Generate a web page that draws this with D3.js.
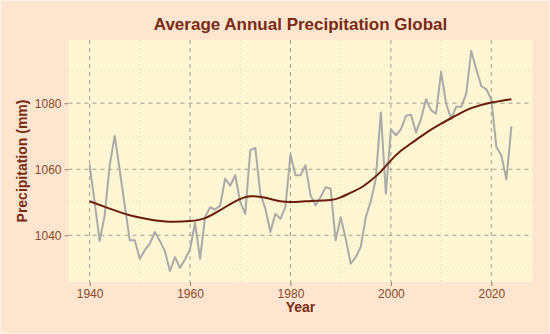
<!DOCTYPE html>
<html>
<head>
<meta charset="utf-8">
<script src="https://cdn.jsdelivr.net/npm/d3@7"></script>
<style>
  html, body { margin: 0; padding: 0; background: #fde5cf; }
  svg { display: block; font-family: "Liberation Sans", Arial, sans-serif; }
</style>
</head>
<body>
<svg id="chart" width="550" height="334"></svg>
<script>
// yearly precipitation (mm), 1940-2024
const years = d3.range(1940, 2025);
const precip = [
  1061.4, 1050.1, 1038.3, 1046.0, 1061.2, 1070.1, 1059.7, 1049.1, 1038.5, 1038.5,
  1032.9, 1035.5, 1037.5, 1041.0, 1038.3, 1035.2, 1029.2, 1033.4, 1030.2, 1032.7,
  1035.7, 1043.8, 1032.9, 1045.5, 1048.5, 1047.8, 1049.0, 1057.2, 1055.0, 1058.2,
  1050.1, 1046.5, 1065.8, 1066.5, 1052.6, 1048.1, 1041.0, 1046.5, 1045.0, 1048.6,
  1064.5, 1058.2, 1058.2, 1061.2, 1052.1, 1049.1, 1051.6, 1054.6, 1054.1, 1038.5,
  1045.5, 1039.0, 1031.4, 1033.4, 1036.5, 1045.5, 1050.3, 1057.1, 1077.2, 1052.6,
  1072.1, 1070.3, 1072.1, 1076.2, 1076.5, 1071.1, 1075.3, 1081.2, 1077.9, 1076.8,
  1089.5, 1079.9, 1075.3, 1078.9, 1078.9, 1082.9, 1095.8, 1090.3, 1085.2, 1084.2,
  1081.2, 1066.8, 1064.2, 1056.9, 1073.0
];

// smoothed trend
const smoothYears = [1940, 1944, 1948, 1952, 1956, 1960, 1963, 1966, 1969, 1972, 1975, 1978, 1981, 1985, 1988, 1990, 1992, 1994, 1996, 1998, 2000, 2002, 2004, 2007, 2010, 2013, 2016, 2020, 2024];
const smoothVals  = [1050.3, 1048.1, 1046.1, 1044.8, 1044.1, 1044.3, 1045.2, 1047.6, 1050.3, 1051.8, 1051.4, 1050.3, 1050.1, 1050.5, 1050.7, 1051.5, 1052.9, 1054.4, 1056.6, 1059.3, 1062.7, 1065.6, 1067.8, 1071.0, 1073.8, 1076.3, 1078.5, 1080.2, 1081.2];

const xTicks = [1940, 1960, 1980, 2000, 2020];
const yTicks = [1040, 1060, 1080];
const xMinor = [1950, 1970, 1990, 2010];
const yMinor = [1030, 1050, 1070, 1090];

const W = 550, H = 334;
const m = {top: 40, right: 17.5, bottom: 52, left: 68.5};
const iw = W - m.left - m.right, ih = H - m.top - m.bottom;

const svg = d3.select("#chart");
svg.append("rect").attr("width", W).attr("height", H).attr("fill", "#fde5cf")
  .attr("stroke", "#fff4ea").attr("stroke-width", 2);

// ggplot-ish 5% expansion
const xr = 2024 - 1940, ymin = d3.min(precip), ymax = d3.max(precip), yr = ymax - ymin;
const x = d3.scaleLinear().domain([1940 - xr * 0.05, 2024 + xr * 0.05]).range([0, iw]);
const y = d3.scaleLinear().domain([ymin - yr * 0.05, ymax + yr * 0.05]).range([ih, 0]);

const g = svg.append("g").attr("transform", `translate(${m.left},${m.top})`);

g.append("rect").attr("width", iw).attr("height", ih).attr("fill", "#fef5d2");

// minor grid
g.append("g").selectAll("line").data(xMinor).join("line")
  .attr("x1", d => x(d)).attr("x2", d => x(d)).attr("y1", 0).attr("y2", ih)
  .attr("stroke", "#e3d9bd").attr("stroke-width", 0.8).attr("stroke-dasharray", "1,3");
g.append("g").selectAll("line").data(yMinor).join("line")
  .attr("y1", d => y(d)).attr("y2", d => y(d)).attr("x1", 0).attr("x2", iw)
  .attr("stroke", "#e3d9bd").attr("stroke-width", 0.8).attr("stroke-dasharray", "1,3");

// major grid
g.append("g").selectAll("line").data(xTicks).join("line")
  .attr("x1", d => x(d)).attr("x2", d => x(d)).attr("y1", 0).attr("y2", ih)
  .attr("stroke", "#9c9688").attr("stroke-width", 0.9).attr("stroke-dasharray", "4,4");
g.append("g").selectAll("line").data(yTicks).join("line")
  .attr("y1", d => y(d)).attr("y2", d => y(d)).attr("x1", 0).attr("x2", iw)
  .attr("stroke", "#9c9688").attr("stroke-width", 0.9).attr("stroke-dasharray", "4,4");

// raw series
const line = d3.line().x((d, i) => x(years[i])).y(d => y(d));
g.append("path").datum(precip)
  .attr("d", line).attr("fill", "none")
  .attr("stroke", "#aaaaaa").attr("stroke-width", 2).attr("stroke-linejoin", "round");

// smooth
const sline = d3.line().x((d, i) => x(smoothYears[i])).y(d => y(d)).curve(d3.curveNatural);
g.append("path").datum(smoothVals)
  .attr("d", sline).attr("fill", "none")
  .attr("stroke", "#6b1e0c").attr("stroke-width", 2);

// axes
const tickCol = "#8b4a2b";
const xAxis = g.append("g").attr("transform", `translate(0,${ih})`)
  .call(d3.axisBottom(x).tickValues(xTicks).tickFormat(d3.format("d")).tickSize(4).tickPadding(3));
const yAxis = g.append("g")
  .call(d3.axisLeft(y).tickValues(yTicks).tickFormat(d3.format("d")).tickSize(4).tickPadding(3));
[xAxis, yAxis].forEach(a => {
  a.select(".domain").remove();
  a.selectAll("line").attr("stroke", "#8a8070");
  a.selectAll("text").attr("fill", tickCol).style("font-size", "12px");
});

// titles
svg.append("text").attr("x", m.left + iw / 2).attr("y", 29.5)
  .attr("text-anchor", "middle").attr("fill", "#7a2a12")
  .style("font-size", "17px").style("font-weight", "bold")
  .text("Average Annual Precipitation Global");
svg.append("text").attr("x", m.left + iw / 2).attr("y", 312)
  .attr("text-anchor", "middle").attr("fill", "#7a2a12")
  .style("font-size", "14px").style("font-weight", "bold")
  .text("Year");
svg.append("text")
  .attr("transform", `translate(27,${m.top + ih / 2}) rotate(-90)`)
  .attr("text-anchor", "middle").attr("fill", "#7a2a12")
  .style("font-size", "14px").style("font-weight", "bold")
  .text("Precipitation (mm)");
</script>
</body>
</html>
